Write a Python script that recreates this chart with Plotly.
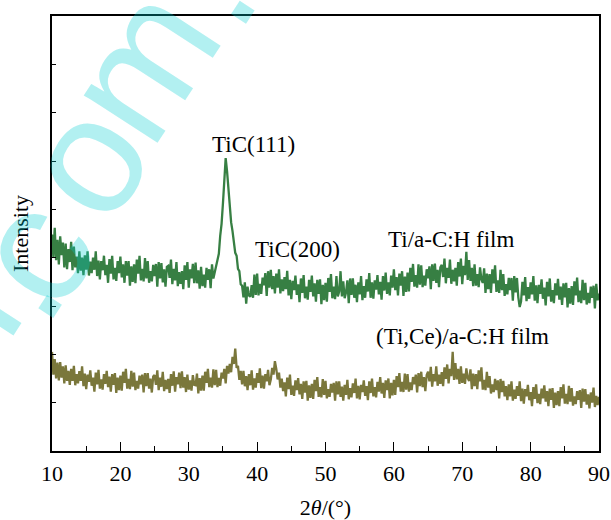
import plotly.graph_objects as go

# Scan grid: 10.0 .. 90.0 deg, step 0.2 deg
x_start = 10.0
x_step = 0.2

# Ti/a-C:H film (one row per degree: d.0, d.2, d.4, d.6, d.8)
ti_film = [
    448, 401, 462, 395, 437,
    386, 444, 405, 431, 380,
    429, 376, 418, 391, 433,
    374, 423, 380, 402, 368,
    413, 373, 400, 364, 405,
    375, 413, 363, 392, 368,
    400, 375, 413, 362, 394,
    355, 393, 374, 404, 364,
    385, 348, 397, 367, 404,
    355, 379, 352, 393, 368,
    402, 359, 386, 348, 393,
    363, 393, 342, 382, 350,
    386, 347, 396, 367, 404,
    353, 377, 351, 399, 357,
    393, 348, 372, 351, 385,
    362, 387, 340, 391, 357,
    389, 349, 376, 340, 381,
    383, 358, 396, 345, 377,
    353, 391, 341, 370, 346,
    372, 335, 384, 354, 391,
    338, 376, 357, 387, 347,
    390, 347, 374, 336, 381,
    341, 365, 338, 379, 354,
    376, 337, 386, 357, 370,
    384, 396, 408, 445, 470,
    512, 556, 606, 579, 541,
    515, 473, 455, 436, 410,
    404, 377, 372, 345, 342,
    318, 349, 305, 340, 322,
    319, 343, 317, 365, 323,
    367, 322, 346, 325, 359,
    343, 368, 321, 372, 338,
    375, 335, 362, 326, 367,
    338, 376, 326, 355, 331,
    360, 335, 373, 322, 354,
    314, 352, 333, 363, 323,
    345, 308, 357, 327, 364,
    316, 340, 313, 354, 329,
    363, 320, 347, 309, 354,
    325, 355, 304, 344, 312,
    348, 309, 358, 329, 366,
    316, 340, 314, 362, 320,
    330, 372, 320, 351, 316,
    328, 353, 306, 357, 323,
    357, 317, 344, 308, 349,
    324, 362, 312, 341, 317,
    355, 330, 368, 317, 349,
    315, 353, 334, 364, 324,
    350, 313, 362, 332, 369,
    325, 349, 322, 363, 338,
    376, 333, 360, 322, 367,
    342, 372, 321, 361, 329,
    369, 330, 379, 350, 387,
    340, 364, 338, 386, 344,
    384, 339, 363, 342, 376,
    357, 382, 335, 386, 352,
    388, 348, 375, 339, 380,
    385, 360, 398, 347, 379,
    358, 396, 346, 375, 351,
    379, 342, 391, 361, 398,
    345, 383, 364, 412, 354,
    395, 352, 379, 341, 386,
    342, 366, 339, 380, 355,
    348, 378, 327, 367, 335,
    366, 327, 376, 347, 384,
    329, 353, 327, 375, 333,
    366, 321, 345, 324, 358,
    333, 358, 311, 362, 328,
    358, 318, 298, 309, 350,
    322, 360, 310, 339, 315,
    349, 324, 362, 311, 343,
    306, 344, 325, 355, 315,
    338, 301, 350, 320, 357,
    309, 333, 306, 347, 322,
    356, 313, 340, 302, 347,
    318, 348, 297, 337, 305,
    341, 302, 351, 322, 359,
    308, 332, 306, 354, 312,
    348, 303, 327, 306, 340,
    317, 342, 295, 346, 312,
    326,
]

# (Ti,Ce)/a-C:H film
ti_ce_film = [
    205, 158, 190, 150, 183,
    146, 184, 152, 175, 140,
    177, 145, 166, 137, 170,
    145, 176, 136, 159, 140,
    165, 145, 175, 134, 160,
    128, 158, 143, 167, 135,
    152, 123, 162, 138, 168,
    129, 148, 127, 159, 139,
    166, 132, 154, 123, 159,
    137, 161, 120, 152, 126,
    156, 125, 164, 141, 170,
    129, 149, 128, 166, 133,
    162, 126, 145, 129, 156,
    138, 158, 121, 161, 134,
    161, 129, 150, 121, 154,
    157, 137, 167, 126, 152,
    133, 164, 124, 147, 128,
    149, 120, 159, 135, 165,
    123, 153, 138, 162, 130,
    165, 131, 153, 122, 158,
    127, 146, 125, 157, 137,
    136, 160, 119, 151, 125,
    156, 125, 164, 141, 170,
    132, 152, 131, 169, 136,
    168, 132, 151, 135, 162,
    150, 170, 140, 176, 160,
    180, 163, 195, 180, 212,
    172, 176, 147, 166, 138,
    166, 134, 155, 126, 159,
    136, 167, 127, 150, 131,
    161, 141, 171, 130, 156,
    129, 159, 144, 168, 136,
    148, 172, 158, 186, 170,
    148, 162, 131, 150, 124,
    142, 113, 152, 128, 158,
    116, 135, 114, 146, 126,
    151, 117, 139, 108, 144,
    121, 145, 104, 136, 110,
    139, 108, 147, 124, 153,
    112, 132, 111, 149, 116,
    145, 109, 128, 112, 139,
    121, 141, 104, 144, 117,
    144, 112, 133, 104, 137,
    116, 147, 107, 130, 111,
    140, 120, 150, 109, 135,
    107, 137, 122, 146, 114,
    134, 105, 144, 120, 150,
    113, 132, 111, 143, 123,
    153, 119, 141, 110, 146,
    126, 150, 109, 141, 115,
    147, 116, 155, 132, 161,
    123, 143, 122, 160, 127,
    159, 123, 142, 126, 153,
    138, 158, 121, 161, 134,
    164, 132, 153, 124, 157,
    164, 144, 174, 133, 159,
    144, 175, 135, 158, 139,
    163, 134, 173, 149, 179,
    140, 170, 155, 205, 147,
    182, 148, 170, 139, 175,
    141, 160, 139, 171, 151,
    145, 169, 128, 160, 134,
    159, 128, 167, 144, 173,
    127, 147, 126, 164, 131,
    155, 119, 138, 122, 149,
    126, 146, 109, 149, 122,
    145, 113, 134, 105, 138,
    113, 144, 104, 127, 108,
    134, 114, 144, 103, 129,
    98, 128, 113, 137, 105,
    122, 93, 132, 108, 138,
    99, 118, 97, 129, 109,
    136, 102, 124, 93, 129,
    106, 130, 89, 121, 95,
    124, 93, 132, 109, 138,
    98, 118, 97, 135, 102,
    130, 94, 113, 97, 124,
    106, 126, 89, 129, 102,
    128, 96, 117, 88, 121,
    100, 131, 91, 114, 95,
    112,
]

assert len(ti_film) == 401, len(ti_film)
assert len(ti_ce_film) == 401, len(ti_ce_film)

two_theta = [round(x_start + x_step * i, 1) for i in range(len(ti_film))]

# Labels (text, 2theta, intensity)
labels = [
    ("TiC(111)", 39.4, 635),
    ("TiC(200)", 45.9, 416),
    ("Ti/a-C:H film", 68.3, 437),
    ("(Ti,Ce)/a-C:H film", 70.1, 236),
]

# watermark glyphs (char, paper x, paper y)
watermark = [
    ("n", -0.179, 0.297),
    (".", -0.079, 0.393),
    ("c", -0.036, 0.460),
    ("o", 0.061, 0.669),
    ("m", 0.162, 0.890),
    (".", 0.275, 1.070),
]

green = "#377f43"
olive = "#7a773b"
serif = "Liberation Serif, Times New Roman, Times, serif"

fig = go.Figure()
fig.add_trace(go.Scatter(x=two_theta, y=ti_film, mode="lines",
                         line=dict(color=green, width=2.3), name="Ti/a-C:H film"))
fig.add_trace(go.Scatter(x=two_theta, y=ti_ce_film, mode="lines",
                         line=dict(color=olive, width=2.3), name="(Ti,Ce)/a-C:H film"))

for txt, xx, yy in labels:
    fig.add_annotation(x=xx, y=yy, text=txt, showarrow=False,
                       font=dict(family=serif, size=23, color="black"))

for ch, px, py in watermark:
    fig.add_annotation(xref="paper", yref="paper", x=px, y=py, text=ch,
                       xanchor="center", yanchor="middle",
                       showarrow=False, textangle=-57,
                       font=dict(family="Liberation Sans, Arial, sans-serif", size=166,
                                 color="rgba(0,204,210,0.3)"))

fig.update_layout(
    width=611, height=520,
    margin=dict(l=52, r=12, t=16, b=69),
    plot_bgcolor="white", paper_bgcolor="white",
    showlegend=False,
    font=dict(family=serif, size=22, color="black"),
)
fig.update_xaxes(
    range=[10, 90], tick0=10, dtick=10,
    ticks="inside", ticklen=9, tickwidth=1.3, tickcolor="black",
    minor=dict(dtick=5, tick0=10, ticks="inside", ticklen=5, tickwidth=1.3,
               tickcolor="black", showgrid=False),
    showline=True, linewidth=1.5, linecolor="black", mirror=True,
    showgrid=False, zeroline=False, ticklabelstandoff=2, automargin=False,
    tickfont=dict(family=serif, size=22),
    title=dict(text="2<i>θ</i>/(°)", standoff=16, font=dict(family=serif, size=22)),
)
fig.update_yaxes(
    range=[0, 900], tick0=0, dtick=100,
    ticks="inside", ticklen=4, tickwidth=1.3, tickcolor="black",
    showticklabels=False, automargin=False,
    showline=True, linewidth=1.5, linecolor="black", mirror=True,
    showgrid=False, zeroline=False,
    title=dict(text="Intensity", standoff=16, font=dict(family=serif, size=22)),
)

fig.write_html("out.html")
